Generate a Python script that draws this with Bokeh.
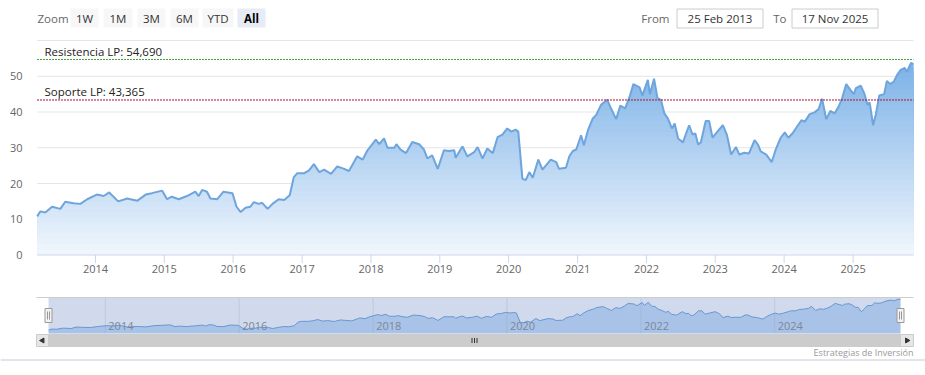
import numpy as np
import pandas as pd
from datetime import datetime
from bokeh.plotting import figure
from bokeh.models import Range1d, Label
from bokeh.embed import file_html
from bokeh.resources import INLINE
from bokeh.core.properties import value

# ---------------- data ----------------
dates_dec = [
    2013.153, 2013.20, 2013.27, 2013.37, 2013.49, 2013.56, 2013.68, 2013.78, 2013.88, 2014.02,
    2014.12, 2014.20, 2014.33, 2014.46, 2014.61, 2014.73, 2014.82, 2014.97, 2015.04, 2015.11,
    2015.21, 2015.33, 2015.45, 2015.50, 2015.55, 2015.62, 2015.67, 2015.77, 2015.86, 2015.99,
    2016.05, 2016.11, 2016.18, 2016.25, 2016.30, 2016.37, 2016.42, 2016.50, 2016.57, 2016.66,
    2016.74, 2016.82, 2016.88, 2016.93, 2017.03, 2017.10, 2017.17, 2017.25, 2017.32, 2017.42,
    2017.51, 2017.61, 2017.68, 2017.80, 2017.88, 2017.95, 2018.07, 2018.12, 2018.19, 2018.24,
    2018.34, 2018.37, 2018.43, 2018.51, 2018.60, 2018.70, 2018.77, 2018.82, 2018.89, 2018.97,
    2019.06, 2019.13, 2019.21, 2019.23, 2019.33, 2019.40, 2019.50, 2019.55, 2019.62, 2019.69,
    2019.77, 2019.84, 2019.91, 2019.98, 2020.04, 2020.10, 2020.14, 2020.20, 2020.25, 2020.30,
    2020.35, 2020.43, 2020.49, 2020.61, 2020.69, 2020.73, 2020.83, 2020.88, 2020.93, 2020.98,
    2021.05, 2021.09, 2021.15, 2021.22, 2021.27, 2021.31, 2021.34, 2021.43, 2021.48, 2021.56,
    2021.62, 2021.69, 2021.75, 2021.81, 2021.90, 2021.94, 2022.02, 2022.05, 2022.11, 2022.16,
    2022.21, 2022.26, 2022.31, 2022.37, 2022.41, 2022.46, 2022.53, 2022.57, 2022.62, 2022.67,
    2022.71, 2022.75, 2022.79, 2022.86, 2022.91, 2022.96, 2023.03, 2023.11, 2023.17, 2023.23,
    2023.30, 2023.35, 2023.42, 2023.49, 2023.57, 2023.62, 2023.66, 2023.74, 2023.82, 2023.88,
    2023.95, 2024.01, 2024.06, 2024.12, 2024.20, 2024.25, 2024.30, 2024.37, 2024.44, 2024.50,
    2024.55, 2024.61, 2024.67, 2024.73, 2024.79, 2024.84, 2024.90, 2024.96, 2025.01, 2025.04,
    2025.11, 2025.16, 2025.21, 2025.24, 2025.29, 2025.33, 2025.38, 2025.45, 2025.49, 2025.54,
    2025.59, 2025.64, 2025.69, 2025.75, 2025.78, 2025.84, 2025.877,
]
prices = [
    10.8, 12.2, 11.9, 13.5, 12.9, 14.9, 14.5, 14.3, 15.6, 16.9,
    16.5, 17.5, 15.0, 15.8, 15.2, 16.9, 17.3, 18.0, 15.6, 16.3,
    15.6, 16.5, 17.7, 16.5, 18.2, 17.7, 15.8, 15.6, 17.7, 17.3,
    13.5, 12.0, 13.2, 13.5, 14.8, 14.3, 14.6, 12.9, 14.3, 15.6,
    15.4, 16.7, 21.8, 22.9, 22.9, 23.7, 25.4, 23.2, 23.9, 22.7,
    24.8, 24.1, 23.5, 27.6, 26.7, 29.3, 32.3, 31.0, 32.6, 30.0,
    30.0, 31.0, 29.5, 28.5, 31.6, 31.0, 29.5, 27.0, 27.9, 24.1,
    29.3, 29.1, 29.3, 27.2, 30.4, 27.6, 28.8, 30.2, 27.0, 29.8,
    28.5, 33.0, 33.7, 35.4, 34.5, 35.1, 34.5, 21.3, 21.0, 23.2,
    21.6, 26.7, 23.9, 26.7, 26.0, 24.1, 24.4, 27.6, 29.1, 29.5,
    33.5, 30.7, 34.9, 38.2, 39.2, 40.8, 42.0, 43.4, 41.2, 38.0,
    41.8, 41.0, 44.0, 47.8, 46.9, 44.6, 49.0, 45.0, 49.3, 43.9,
    43.4, 39.6, 38.2, 35.4, 36.8, 32.6, 31.5, 33.7, 36.3, 33.7,
    34.0, 30.9, 31.5, 37.5, 37.5, 32.8, 34.5, 36.3, 33.5, 28.1,
    30.2, 28.1, 28.6, 28.4, 32.1, 30.9, 29.0, 28.1, 26.0, 29.6,
    32.8, 34.3, 32.8, 34.0, 36.3, 37.7, 37.3, 39.4, 39.9, 40.8,
    43.7, 38.0, 40.3, 39.6, 41.5, 43.9, 47.8, 46.2, 45.0, 46.7,
    47.4, 45.3, 42.0, 42.7, 36.3, 39.4, 44.6, 45.0, 48.7, 47.8,
    48.5, 50.4, 51.8, 52.3, 51.2, 53.7, 53.4,
]
range_from = "2013-02-25"
range_to = "2025-11-17"
from_label = "25 Feb 2013"
to_label = "17 Nov 2025"
resistance = 54.690
support = 43.365
y_ticks = [0, 10, 20, 30, 40, 50, 60]
y_tick_labels = ["0", "10", "20", "30", "40", "50", ""]   # last label hidden
year_ticks = list(range(2014, 2026))
nav_year_ticks = [2014, 2016, 2018, 2020, 2022, 2024]
zoom_buttons = ["1W", "1M", "3M", "6M", "YTD", "All"]
credits = "Estrategias de Inversión"

FONT = "Open Sans"


def dec2dt(d):
    y = int(d)
    a = datetime(y, 1, 1)
    b = datetime(y + 1, 1, 1)
    return a + (b - a) * (d - y)


dates = pd.to_datetime([dec2dt(d) for d in dates_dec])
vals = np.array(prices)
d0 = pd.Timestamp(range_from)
d1 = pd.Timestamp(range_to)
year_dt = [pd.Timestamp(f"{y}-01-01") for y in year_ticks]
nav_years = [pd.Timestamp(f"{y}-01-01") for y in nav_year_ticks]
ms = lambda t: t.value / 1e6
span_ms = ms(d1) - ms(d0)

# ---------------- layout geometry (page pixels) ----------------
PX0, PX1, PY0, PY1 = 0, 925, 0, 370           # canvas in page coordinates
M_L, M_R, M_T, M_B = 36.5, 913, 40, 254.5     # main plot area
Y_MIN, Y_MAX = 0, 60
N_L, N_R, N_T, N_B = 48, 900, 297, 333        # navigator plot area
N_VTOP, N_VBOT = 56.0, 6.0

p = figure(width=PX1 - PX0, height=PY1 - PY0, x_range=Range1d(PX0, PX1), y_range=Range1d(PY1, PY0),
           x_axis_location=None, y_axis_location=None, min_border=0,
           output_backend="svg", toolbar_location=None)
p.outline_line_color = None
p.grid.grid_line_color = None
p.background_fill_color = "white"
p.border_fill_color = "white"

mpp = span_ms / (M_R - M_L)
upp = (Y_MAX - Y_MIN) / (M_B - M_T)
npp = span_ms / (N_R - N_L)
nup = (N_VTOP - N_VBOT) / (N_B - N_T)
p.extra_x_ranges = {
    "mx": Range1d(ms(d0) - (M_L - PX0) * mpp, ms(d1) + (PX1 - M_R) * mpp),
    "nx": Range1d(ms(d0) - (N_L - PX0) * npp, ms(d1) + (PX1 - N_R) * npp),
}
p.extra_y_ranges = {
    "my": Range1d(Y_MIN - (PY1 - M_B) * upp, Y_MAX + (M_T - PY0) * upp),
    "ny": Range1d(N_VBOT - (PY1 - N_B) * nup, N_VTOP + (N_T - PY0) * nup),
}

# ---------------- header (range selector) ----------------
TXT = dict(text_font=value(FONT), text_font_size="11.5px", text_baseline="middle")
p.text(x=[37], y=[17.5], text=["Zoom"], text_color="#666666", text_align="left", **TXT)
btn_l = [70, 103, 137, 170, 202, 237]
btn_r = [98, 132, 165, 198, 233, 265]
btn_fill = ["#f7f7f7"] * 5 + ["#e6ebf5"]
p.quad(left=btn_l, right=btn_r, top=[8] * 6, bottom=[27] * 6, fill_color=btn_fill, line_color=None)
p.text(x=[(a + b) / 2 for a, b in zip(btn_l[:5], btn_r[:5])], y=[17.5] * 5, text=zoom_buttons[:5],
       text_color="#333333", text_align="center", **TXT)
p.text(x=[(btn_l[5] + btn_r[5]) / 2], y=[17.5], text=zoom_buttons[5:], text_color="#000000",
       text_font_style="bold", text_align="center", **TXT)
p.text(x=[669, 786], y=[17.5, 17.5], text=["From", "To"], text_color="#666666", text_align="right", **TXT)
p.quad(left=[676.5, 791.5], right=[762.5, 877.5], top=[8.5, 8.5], bottom=[27.5, 27.5],
       fill_color="white", line_color="#cccccc", line_width=1)
p.text(x=[719.5, 834.5], y=[17.5, 17.5], text=[from_label, to_label], text_color="#333333",
       text_align="center", **TXT)

# ---------------- main chart ----------------
MR = dict(x_range_name="mx", y_range_name="my")
grid_vals = [t for t in y_ticks if t != Y_MIN]
p.segment(x0=[d0] * len(grid_vals), x1=[d1] * len(grid_vals), y0=grid_vals, y1=grid_vals,
          line_color="#e6e6e6", line_width=1, **MR)

top_rgb = np.array([124, 178, 232])
bot_rgb = np.array([242, 247, 253])
vmax = 54.0
levels = np.arange(1.5, vals.max() + 1.5, 1.5)[::-1]
for i, hi in enumerate(levels):
    f = min(max((hi - 0.75) / vmax, 0), 1)
    c = (bot_rgb + (top_rgb - bot_rgb) * f).astype(int)
    col = "#%02x%02x%02x" % tuple(c)
    y2 = vals if i == 0 else np.minimum(vals, hi)
    p.varea(x=dates, y1=Y_MIN, y2=y2, fill_color=col, fill_alpha=1.0, **MR)
p.line(x=dates, y=vals, line_color="#6ea5dd", line_width=2, **MR)

# x axis line, ticks and labels
p.segment(x0=[d0], x1=[d1], y0=[Y_MIN], y1=[Y_MIN], line_color="#ccd6eb", line_width=1, **MR)
p.ray(x=year_dt, y=[Y_MIN] * len(year_dt), length=8, length_units="screen", angle=-np.pi / 2,
      line_color="#ccd6eb", line_width=1, **MR)
p.text(x=year_dt, y=[268] * len(year_dt), text=[str(y) for y in year_ticks], x_range_name="mx",
       text_font=value(FONT), text_font_size="11px", text_color="#666666",
       text_align="center", text_baseline="middle")
# y axis labels
p.text(x=[22] * len(y_ticks), y=y_ticks, text=y_tick_labels, y_range_name="my",
       text_font=value(FONT), text_font_size="11px", text_color="#666666",
       text_align="right", text_baseline="alphabetic")

# support / resistance
for lvl, col, name in [(resistance, "#4f9a45", "Resistencia LP"), (support, "#b0103a", "Soporte LP")]:
    p.segment(x0=[d0], x1=[d1], y0=[lvl], y1=[lvl], line_color=col, line_width=1, line_dash="2 1", **MR)
    p.add_layout(Label(x=44, y=lvl, y_range_name="my", y_offset=8,
                       text=f"{name}: {lvl:.3f}".replace(".", ","),
                       text_font=FONT, text_font_size="11.5px", text_color="#222222",
                       text_baseline="alphabetic"))

# ---------------- navigator ----------------
NR = dict(x_range_name="nx", y_range_name="ny")
p.segment(x0=nav_years, x1=nav_years, y0=N_VBOT, y1=N_VTOP, line_color="#e6e6e6", line_width=1, **NR)
p.varea(x=dates, y1=N_VBOT, y2=vals, fill_color="#7cb5ec", fill_alpha=0.45, **NR)
p.line(x=dates, y=vals, line_color="#6a9fd8", line_width=1, **NR)
p.text(x=nav_years, y=[325] * len(nav_years), text=[str(y) for y in nav_year_ticks], x_range_name="nx",
       x_offset=3, text_font=value(FONT), text_font_size="11px", text_color="#888888",
       text_align="left", text_baseline="middle")
p.quad(left=[N_L], right=[N_R], top=[N_T], bottom=[N_B], fill_color="#6685c2", fill_alpha=0.3, line_color=None)
p.segment(x0=[36], x1=[913], y0=[N_T], y1=[N_T], line_color="#cccccc", line_width=1)
hx = [N_L, N_R]
p.quad(left=[h - 3.5 for h in hx], right=[h + 3.5 for h in hx], top=[308, 308], bottom=[322, 322],
       fill_color="#f2f2f2", line_color="#999999", line_width=1)
p.segment(x0=[h - 1 for h in hx] + [h + 1 for h in hx], x1=[h - 1 for h in hx] + [h + 1 for h in hx],
          y0=[311] * 4, y1=[319] * 4, line_color="#999999", line_width=1)
# scrollbar
p.quad(left=[36], right=[913], top=[334], bottom=[346], fill_color="#f2f2f2", line_color=None)
p.quad(left=[N_L], right=[N_R], top=[334], bottom=[346], fill_color="#cccccc", line_color="#cccccc")
p.quad(left=[36, N_R], right=[N_L, 913], top=[334, 334], bottom=[346, 346],
       fill_color="#e6e6e6", line_color="#cccccc", line_width=1)
p.scatter(x=[42, 906.5], y=[340, 340], marker="triangle", size=5, angle=[np.pi / 2, -np.pi / 2],
          fill_color="#333333", line_color="#333333")
gx = (N_L + N_R) / 2
p.segment(x0=[gx - 2.5, gx, gx + 2.5], x1=[gx - 2.5, gx, gx + 2.5], y0=[337.5] * 3, y1=[342.5] * 3,
          line_color="#333333", line_width=1)
# credits and bottom border
p.text(x=[913], y=[351.5], text=[credits], text_font=value(FONT), text_font_size="9px",
       text_color="#999999", text_align="right", text_baseline="middle")
p.segment(x0=[PX0], x1=[PX1], y0=[359.5], y1=[359.5], line_color="#c8cad6", line_width=1)

open("out.html", "w").write(file_html(p, INLINE))
